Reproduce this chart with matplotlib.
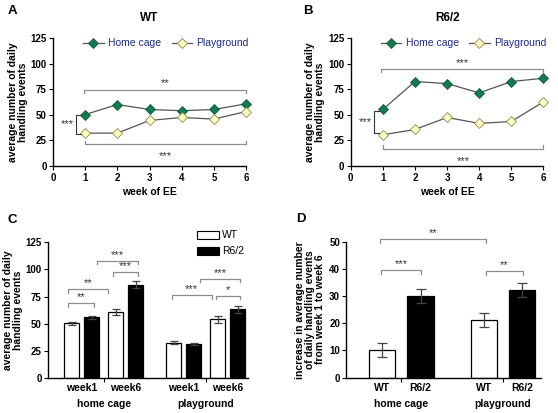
import matplotlib.pyplot as plt
from matplotlib.patches import Patch

GREEN, PALE = "#167a4f", "#ffffc0"
BRK = "#8c8c8c"

plt.rcParams.update({
    "font.family": ["Liberation Sans", "DejaVu Sans"], "font.size": 7.5,
    "font.weight": "bold", "axes.linewidth": 1.0, "axes.labelweight": "bold",
    "xtick.major.size": 3, "ytick.major.size": 3, "xtick.major.pad": 2,
    "ytick.major.pad": 1.5, "xtick.labelsize": 7, "ytick.labelsize": 7,
})

# panels A and B: weekly averages
weeks = [1, 2, 3, 4, 5, 6]
wt_home = [50.3, 60.0, 55.2, 54.0, 55.2, 60.7]
wt_play = [32.1, 32.1, 44.5, 47.4, 45.8, 53.2]
r6_home = [55.2, 82.5, 80.5, 71.4, 82.5, 85.7]
r6_play = [30.5, 35.7, 47.4, 41.6, 43.5, 62.7]

# panel C: week1 / week6 means, WT and R6/2
c_groups = ["home cage", "playground"]
c_weeks = ["week1", "week6", "week1", "week6"]
c_wt = [50.2, 60.7, 32.3, 53.9]
c_wt_err = [1.2, 3.0, 1.3, 3.1]
c_r6 = [55.7, 86.0, 31.1, 63.1]
c_r6_err = [1.6, 3.1, 0.9, 3.1]

# panel D: increase week1 -> week6
d_groups = ["home cage", "playground"]
d_labels = ["WT", "R6/2", "WT", "R6/2"]
d_vals = [10.1, 30.0, 21.1, 32.2]
d_err = [2.6, 2.5, 2.5, 2.5]

fig = plt.figure(figsize=(5.58, 4.13), dpi=100)


def style(ax):
    for s in ("top", "right"):
        ax.spines[s].set_visible(False)


def hbracket(ax, x0, x1, y, tick, label, above=True, fs=8):
    ax.plot([x0, x0, x1, x1], [y - tick, y, y, y - tick], color=BRK, lw=0.9,
            clip_on=False)
    ty = y + abs(tick) * 0.3 if above else y - abs(tick) * 2.0
    ax.text((x0 + x1) / 2, ty, label, ha="center",
            va="bottom" if above else "top", fontsize=fs, color="#333333",
            fontweight="normal")


def line_panel(rect, home, play, title, top, bottom, left):
    ax = fig.add_axes(rect)
    ax.plot(weeks, home, color="#555555", lw=0.9, marker="D", ms=5,
            mfc=GREEN, mec="#0f5a38", mew=0.6, label="Home cage", clip_on=False)
    ax.plot(weeks, play, color="#555555", lw=0.9, marker="D", ms=5,
            mfc=PALE, mec="#8a8a55", mew=0.6, label="Playground", clip_on=False)
    ax.set_xlim(0, 6)
    ax.set_ylim(0, 125)
    ax.set_xticks(range(7))
    ax.set_yticks([0, 25, 50, 75, 100, 125])
    ax.set_xlabel("week of EE", labelpad=3)
    ax.set_ylabel("average number of daily\nhandling events", labelpad=2,
                  linespacing=1.0)
    hbracket(ax, top[0], 6, top[1], 3.2, top[2])
    hbracket(ax, 1.0, 6, bottom, -3.4, "***", above=False)
    bx, y0, y1 = left
    ax.plot([bx + 0.15, bx, bx, bx + 0.15], [y0, y0, y1, y1], color="#333333",
            lw=0.8, clip_on=False)
    ax.text(bx - 0.07, (y0 + y1) / 2, "***", ha="right", va="center",
            fontsize=8, color="#333333", fontweight="normal")
    leg = ax.legend(loc="upper center", bbox_to_anchor=(0.585, 1.07), ncol=2,
                    frameon=False, handlelength=2.0, handletextpad=0.4,
                    columnspacing=1.0, prop={"weight": "normal", "size": 7.5})
    for t in leg.get_texts():
        t.set_color("#1f2a8a")
    ax.set_title(title, fontsize=8.5, fontweight="bold", pad=12)
    style(ax)
    return ax


axa = line_panel([0.095, 0.598, 0.346, 0.31], wt_home, wt_play, "WT",
                 (0.95, 74.7, "**"), 21.4, (0.73, 50.3, 30.8))
axb = line_panel([0.6285, 0.598, 0.3455, 0.31], r6_home, r6_play, "R6/2",
                 (0.95, 94.8, "***"), 16.9, (0.72, 54.2, 32.5))

# panel C
axc = fig.add_axes([0.086, 0.0855, 0.358, 0.3275])
c_wt_x = [1.2, 3.4, 6.3, 8.5]
c_r6_x = [2.2, 4.4, 7.3, 9.5]
w = 0.75
ekw = dict(ecolor="#444444", elinewidth=0.9, capsize=3, capthick=0.9)
axc.bar(c_wt_x, c_wt, w, color="white", edgecolor="black", lw=0.9,
        yerr=c_wt_err, error_kw=ekw)
axc.bar(c_r6_x, c_r6, w, color="black", edgecolor="black", lw=0.9,
        yerr=c_r6_err, error_kw=ekw)
axc.set_xlim(0, 10)
axc.set_ylim(0, 125)
axc.set_yticks([0, 25, 50, 75, 100, 125])
axc.set_xticks([2.8, 7.9])
axc.set_xticklabels([])
for x, lab in zip([1.7, 3.9, 6.8, 9.0], c_weeks):
    axc.text(x, -5, lab, ha="center", va="top", fontsize=7.5)
for x, lab in zip([2.8, 7.9], c_groups):
    axc.text(x, -20, lab, ha="center", va="top", fontsize=7.5)
axc.set_ylabel("average number of daily\nhandling events", labelpad=2,
               linespacing=1.0)
hbracket(axc, 1.0, 2.3, 68.7, 3, "**")
hbracket(axc, 1.0, 3.0, 81.6, 3, "**")
hbracket(axc, 2.45, 4.5, 107.8, 3, "***")
hbracket(axc, 3.23, 4.5, 97.3, 3, "***")
hbracket(axc, 6.2, 8.2, 76.0, 3, "***")
hbracket(axc, 7.6, 9.63, 91.4, 3, "***")
hbracket(axc, 8.43, 9.63, 75.7, 3, "*")
handles = [Patch(facecolor="white", edgecolor="black", lw=0.8, label="WT"),
           Patch(facecolor="black", edgecolor="black", lw=0.8, label="R6/2")]
axc.legend(handles=handles, loc="upper right", bbox_to_anchor=(1.03, 1.16),
           frameon=False, handlelength=2.1, handleheight=0.8,
           handletextpad=0.3, labelspacing=0.6,
           prop={"weight": "normal", "size": 7.5})
style(axc)

# panel D
axd = fig.add_axes([0.6206, 0.0855, 0.349, 0.3295])
d_x = [0.93, 1.93, 3.58, 4.57]
axd.bar(d_x, d_vals, 0.68, color=["white", "black", "white", "black"],
        edgecolor="black", lw=0.9, yerr=d_err,
        error_kw=dict(ecolor="#444444", elinewidth=0.9, capsize=3.5,
                      capthick=0.9))
axd.set_xlim(0, 5.06)
axd.set_ylim(0, 50)
axd.set_yticks([0, 10, 20, 30, 40, 50])
axd.set_xticks([1.43, 4.07])
axd.set_xticklabels([])
for x, lab in zip(d_x, d_labels):
    axd.text(x, -2, lab, ha="center", va="top", fontsize=7.5)
for x, lab in zip([1.43, 4.07], d_groups):
    axd.text(x, -8, lab, ha="center", va="top", fontsize=7.5)
axd.set_ylabel("increase in average number\nof daily handling events\n"
               "from week 1 to week 6", labelpad=3, linespacing=1.0)
hbracket(axd, 0.91, 1.93, 39.6, 1.4, "***")
hbracket(axd, 3.62, 4.59, 39.2, 1.4, "**")
hbracket(axd, 0.88, 3.62, 50.9, 1.4, "**")
style(axd)

# panel letters in figure pixels (from top-left)
for lab, px, py in [("A", 8, 5), ("B", 303, 5), ("C", 8, 214), ("D", 296, 213)]:
    fig.text(px / 558, 1 - py / 413, lab, fontsize=9.5, fontweight="bold",
             ha="left", va="top")

fig.savefig("out.png", dpi=100)
